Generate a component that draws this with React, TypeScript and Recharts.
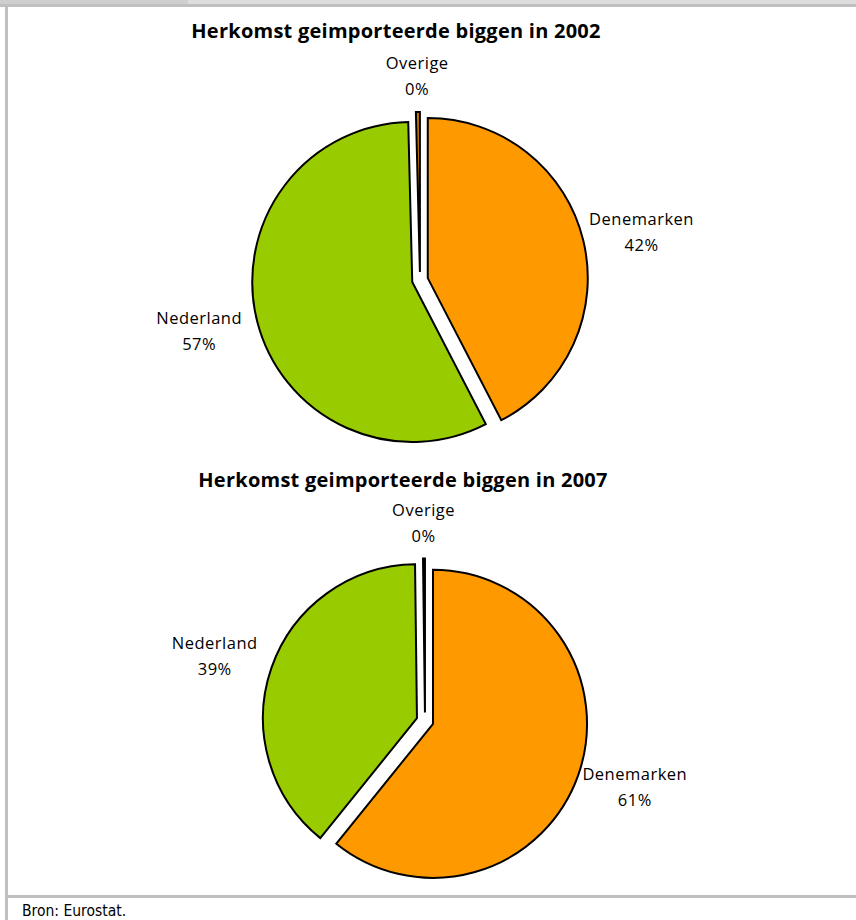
import React from 'react';
import { PieChart, Pie, Cell } from 'recharts';

const categories = ['Denemarken', 'Nederland', 'Overige'];
const values2002 = [42.4, 57.2, 0.4];
const values2007 = [60.8, 39.0, 0.2];
const titles = ['Herkomst geimporteerde biggen in 2002', 'Herkomst geimporteerde biggen in 2007'];
const sliceColors = ['#FF9900', '#99CC00', '#CC7A00'];
const sourceText = 'Bron: Eurostat.';

const RAD = Math.PI / 180;
const LABEL_FONT = "'Open Sans', 'DejaVu Sans', sans-serif";
const TITLE_FONT = "'Open Sans', 'DejaVu Sans', sans-serif";

function makeData(values: number[]) {
  return categories.map((name, i) => ({ name, value: values[i] }));
}

function midAngles(values: number[]) {
  const total = values.reduce((a, b) => a + b, 0);
  let cum = 0;
  return values.map((v) => {
    const s = cum;
    cum += v;
    return 90 - 360 * ((s + v / 2) / total);
  });
}

function renderExplodedPies(key: string, values: number[], cx: number, cy: number, r: number, explode: number) {
  const data = makeData(values);
  const mids = midAngles(values);
  return values.map((_, i) => {
    const m = mids[i] * RAD;
    const pcx = cx + explode * Math.cos(m);
    const pcy = cy - explode * Math.sin(m);
    const label = (props: any) => {
      if (props.index !== i) return null;
      const a = props.midAngle * RAD;
      const c = Math.cos(a);
      const s = -Math.sin(a);
      const dist = props.outerRadius + 18;
      const bx = props.cx + dist * c + c * 42;
      const by = props.cy + dist * s + s * 18;
      const pct = `${Math.round(props.percent * 100)}%`;
      return (
        <g>
          <text x={bx} y={by - 13 + 6} textAnchor="middle" fontFamily={LABEL_FONT} fontSize={16.5} letterSpacing={0.5} fill="#000">
            {categories[i]}
          </text>
          <text x={bx} y={by + 13 + 6} textAnchor="middle" fontFamily={LABEL_FONT} fontSize={16.5} letterSpacing={0.5} fill="#000">
            {pct}
          </text>
        </g>
      );
    };
    return (
      <Pie
        key={`${key}-${i}`}
        data={data}
        dataKey="value"
        nameKey="name"
        cx={pcx}
        cy={pcy}
        innerRadius={0}
        outerRadius={r}
        startAngle={90}
        endAngle={-270}
        isAnimationActive={false}
        label={label}
        labelLine={false}
      >
        {data.map((d, j) => (
          <Cell
            key={`c-${j}`}
            fill={j === i ? sliceColors[j] : 'transparent'}
            stroke={j === i ? '#000' : 'none'}
            strokeWidth={2}
          />
        ))}
      </Pie>
    );
  });
}

export default function App() {
  return (
    <div style={{ position: 'absolute', left: 0, top: 0, width: 856, height: 920, background: '#fff', overflow: 'hidden' }}>
      <svg width={856} height={920} style={{ position: 'absolute', left: 0, top: 0 }}>
        <rect x={0} y={0} width={188} height={4} fill="#cfcfcf" />
        <rect x={188} y={0} width={668} height={4} fill="#dddddd" />
        <rect x={0} y={4} width={856} height={3} fill="#c0c0c0" />
        <rect x={5} y={4} width={3} height={916} fill="#c0c0c0" />
        <rect x={5} y={895} width={851} height={3} fill="#c0c0c0" />
        <text x={396} y={38} textAnchor="middle" fontFamily={TITLE_FONT} fontWeight="bold" fontSize={20} letterSpacing={0.25} fill="#000">
          {titles[0]}
        </text>
        <text x={403} y={487} textAnchor="middle" fontFamily={TITLE_FONT} fontWeight="bold" fontSize={20} letterSpacing={0.25} fill="#000">
          {titles[1]}
        </text>
        <text x={22} y={916} fontFamily="'Liberation Sans Narrow', 'DejaVu Sans Condensed', sans-serif" fontSize={15.5} fill="#000">
          {sourceText}
        </text>
      </svg>
      <div style={{ position: 'absolute', left: 0, top: 0 }}>
        <PieChart width={856} height={920} margin={{ top: 0, right: 0, bottom: 0, left: 0 }}>
          {renderExplodedPies('p2002', values2002, 420, 280, 160, 8)}
          {renderExplodedPies('p2007', values2007, 425, 721, 154, 8.5)}
        </PieChart>
      </div>
    </div>
  );
}
